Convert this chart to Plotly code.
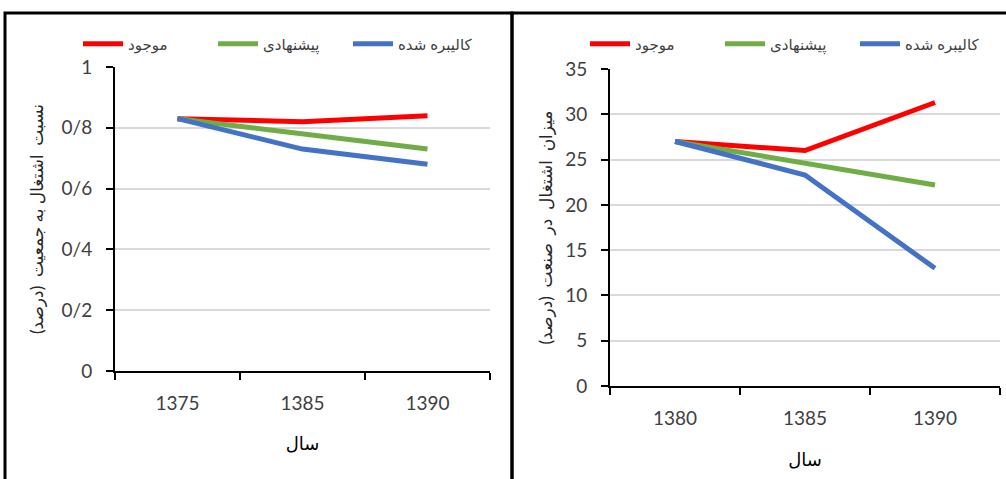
import plotly.graph_objects as go

# ---- data ----
years_left = ["1375", "1385", "1390"]
left_mojud = [0.83, 0.82, 0.84]
left_pishnahadi = [0.83, 0.78, 0.73]
left_kalibre = [0.83, 0.73, 0.68]

years_right = ["1380", "1385", "1390"]
right_mojud = [27.0, 26.0, 31.3]
right_pishnahadi = [27.0, 24.6, 22.2]
right_kalibre = [27.0, 23.3, 13.0]

series_names = ["موجود", "پیشنهادی", "کالیبره شده"]
colors = ["#FF0000", "#70AD47", "#4472C4"]

left_ticks = [0, 0.2, 0.4, 0.6, 0.8, 1]
left_ticktext = ["0", "0/2", "0/4", "0/6", "0/8", "1"]
right_ticks = [0, 5, 10, 15, 20, 25, 30, 35]

FONT = "Lato, 'DejaVu Sans', sans-serif"
W, H = 1006, 479

def px(x):
    return x / W

def py(y):
    return (H - y) / H

fig = go.Figure()

for name, vals, c in zip(series_names, [left_mojud, left_pishnahadi, left_kalibre], colors):
    fig.add_trace(go.Scatter(x=years_left, y=vals, name=name, mode="lines",
                             line=dict(color=c, width=5), xaxis="x", yaxis="y",
                             legend="legend"))
for name, vals, c in zip(series_names, [right_mojud, right_pishnahadi, right_kalibre], colors):
    fig.add_trace(go.Scatter(x=years_right, y=vals, name=name, mode="lines",
                             line=dict(color=c, width=5), xaxis="x2", yaxis="y2",
                             legend="legend2"))

xcommon = dict(type="category", tickson="boundaries", range=[-0.5, 2.5],
               showline=True, linecolor="black", linewidth=2,
               ticks="outside", ticklen=7, tickwidth=2, tickcolor="black",
               showgrid=False, zeroline=False,
               tickfont=dict(family=FONT, size=19, color="#404040"),
               ticklabelstandoff=14)
ycommon = dict(showline=True, linecolor="black", linewidth=2,
               ticks="outside", ticklen=7, tickwidth=2, tickcolor="black",
               showgrid=True, gridcolor="#D9D9D9", gridwidth=1.5, zeroline=False,
               tickfont=dict(family=FONT, size=19, color="#404040"),
               ticklabelstandoff=10)

legend_common = dict(orientation="h", xanchor="left", yanchor="middle",
                     font=dict(family=FONT, size=15, color="#404040"),
                     bgcolor="rgba(0,0,0,0)", itemwidth=40, traceorder="normal",
                     entrywidth=80, entrywidthmode="pixels")

fig.update_layout(
    width=W, height=H,
    margin=dict(l=0, r=0, t=0, b=0, autoexpand=False),
    paper_bgcolor="white", plot_bgcolor="white",
    xaxis=dict(xcommon, domain=[px(115), px(490)], anchor="y",
               title=dict(text="سال", font=dict(family=FONT, size=18, color="black"), standoff=25)),
    yaxis=dict(ycommon, domain=[py(371), py(67)], anchor="x", range=[0, 1],
               tickvals=left_ticks, ticktext=left_ticktext,
               title=dict(text="نسبت  اشتغال به جمعیت  (درصد)",
                          font=dict(family=FONT, size=17, color="#262626"), standoff=14)),
    xaxis2=dict(xcommon, domain=[px(610), px(1000)], anchor="y2",
                title=dict(text="سال", font=dict(family=FONT, size=18, color="black"), standoff=26)),
    yaxis2=dict(ycommon, domain=[py(386), py(69)], anchor="x2", range=[0, 35],
                tickvals=right_ticks,
                title=dict(text="میزان  اشتغال  در  صنعت  (درصد)",
                           font=dict(family=FONT, size=17, color="#262626"), standoff=8)),
    legend=dict(legend_common, x=px(78), y=py(44)),
    legend2=dict(legend_common, x=px(585), y=py(44)),
    showlegend=True,
)

# panel borders (extend past the bottom and right edges, as in the reference)
fig.add_shape(type="rect", xref="paper", yref="paper",
              x0=px(5), x1=px(512), y0=py(495), y1=py(13),
              line=dict(color="black", width=3), layer="above")
fig.add_shape(type="rect", xref="paper", yref="paper",
              x0=px(512), x1=px(1020), y0=py(495), y1=py(13),
              line=dict(color="black", width=3), layer="above")

fig.write_html("out.html", config={"displayModeBar": False},
               post_script="document.body.style.margin='0px';")
